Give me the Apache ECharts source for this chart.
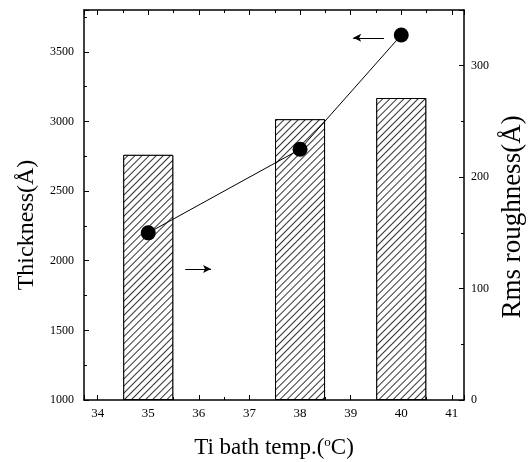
<!DOCTYPE html>
<html>
<head>
<meta charset="utf-8">
<script src="https://cdn.jsdelivr.net/npm/echarts@6/dist/echarts.min.js"></script>
<style>
  html, body { margin: 0; padding: 0; background: #fff; }
  #main { width: 530px; height: 462px; }
</style>
</head>
<body>
<div id="main"></div>
<script>
// data
var temps = [35, 38, 40];              // Ti bath temp (oC)
var thickness = [2200, 2800, 3620];    // left axis, Å
var roughness = [220, 252, 271];       // right axis, Å (bars)

// the two little arrows that say which axis belongs to which series
var arrowLeft = [[39.66, 3600], [39.05, 3600]];   // points at thickness axis
var arrowRight = [[35.73, 1940], [36.24, 1940]];  // points at roughness axis

var chart = echarts.init(document.getElementById('main'));

var serif = 'Liberation Serif';

// common tick settings (ticks inside, like the original)
function ticks(len) {
    return { show: true, inside: true, length: len, lineStyle: { color: '#000', width: 1 } };
}

function plain(v) {
    return String(v);
}

var option = {
    backgroundColor: '#fff',
    animation: false,
    grid: {
        left: 84,
        right: 66,
        top: 10,
        bottom: 62,
        outerBoundsMode: 'none'
    },
    xAxis: [{
        type: 'value',
        min: 33.73,
        max: 41.24,
        splitNumber: 7,
        name: 'Ti bath temp.({sup|o}C)',
        nameLocation: 'middle',
        nameGap: 36,
        nameTextStyle: {
            fontFamily: serif,
            fontSize: 23,
            color: '#000',
            rich: {
                sup: { fontFamily: serif, fontSize: 13, color: '#000', verticalAlign: 'top', padding: [0, 0, 10, 0] }
            }
        },
        axisLine: { show: true, lineStyle: { color: '#000', width: 1.5 } },
        axisTick: ticks(5),
        minorTick: { show: true, splitNumber: 2, length: 3, lineStyle: { color: '#000' } },
        splitLine: { show: false },
        axisLabel: {
            fontFamily: serif,
            fontSize: 13,
            color: '#000',
            margin: 7,
            formatter: function (v) {
                return Math.abs(v - Math.round(v)) < 1e-6 ? String(Math.round(v)) : '';
            }
        }
    }, {
        // top frame with ticks
        type: 'value',
        position: 'top',
        min: 33.73,
        max: 41.24,
        splitNumber: 7,
        axisLine: { show: true, lineStyle: { color: '#000', width: 1.5 } },
        axisTick: ticks(5),
        minorTick: { show: true, splitNumber: 2, length: 3, lineStyle: { color: '#000' } },
        splitLine: { show: false },
        axisLabel: { show: false }
    }],
    yAxis: [{
        type: 'value',
        min: 1000,
        max: 3800,
        interval: 500,
        name: 'Thickness(Å)',
        nameLocation: 'middle',
        nameRotate: 90,
        nameGap: 42,
        nameTextStyle: {
            fontFamily: serif,
            fontSize: 24,
            color: '#000',
            padding: [0, 40, 0, 0]
        },
        axisLine: { show: true, lineStyle: { color: '#000', width: 1.5 } },
        axisTick: ticks(5),
        minorTick: { show: true, splitNumber: 2, length: 3, lineStyle: { color: '#000' } },
        splitLine: { show: false },
        axisLabel: {
            fontFamily: serif,
            fontSize: 12,
            color: '#000',
            margin: 10,
            showMaxLabel: false,
            formatter: plain
        }
    }, {
        type: 'value',
        position: 'right',
        min: 0,
        max: 350,
        interval: 100,
        name: 'Rms roughness(Å)',
        nameLocation: 'middle',
        nameRotate: 90,
        nameGap: 30,
        nameTextStyle: {
            fontFamily: serif,
            fontSize: 27,
            color: '#000',
            padding: [0, 24, 0, 0]
        },
        axisLine: { show: true, lineStyle: { color: '#000', width: 1.5 } },
        axisTick: ticks(5),
        minorTick: { show: true, splitNumber: 2, length: 3, lineStyle: { color: '#000' } },
        splitLine: { show: false },
        axisLabel: {
            fontFamily: serif,
            fontSize: 12,
            color: '#000',
            margin: 7,
            showMaxLabel: false,
            formatter: plain
        }
    }],
    series: [
        {
            name: 'Rms roughness',
            type: 'bar',
            xAxisIndex: 0,
            yAxisIndex: 1,
            barWidth: 50,
            z: 1,
            data: temps.map(function (t, i) { return [t, roughness[i]]; }),
            itemStyle: {
                color: '#fff',
                borderColor: '#000',
                borderWidth: 1,
                decal: {
                    symbol: 'rect',
                    symbolSize: 1,
                    color: '#333',
                    backgroundColor: '#fff',
                    dashArrayX: [1, 0],
                    dashArrayY: [1, 4],
                    rotation: -Math.PI / 4
                }
            }
        },
        {
            name: 'Thickness',
            type: 'line',
            xAxisIndex: 0,
            yAxisIndex: 0,
            z: 3,
            symbol: 'circle',
            symbolSize: 15,
            itemStyle: { color: '#000' },
            lineStyle: { color: '#000', width: 1 },
            data: temps.map(function (t, i) { return [t, thickness[i]]; }),
            markLine: {
                silent: true,
                symbol: ['none', 'arrow'],
                symbolSize: [6, 8],
                label: { show: false },
                lineStyle: { color: '#000', width: 1, type: 'solid' },
                data: [
                    [{ coord: arrowLeft[0] }, { coord: arrowLeft[1] }],
                    [{ coord: arrowRight[0] }, { coord: arrowRight[1] }]
                ]
            }
        }
    ]
};

chart.setOption(option);

window.addEventListener('resize', function () {
    chart.resize();
});
</script>
</body>
</html>
